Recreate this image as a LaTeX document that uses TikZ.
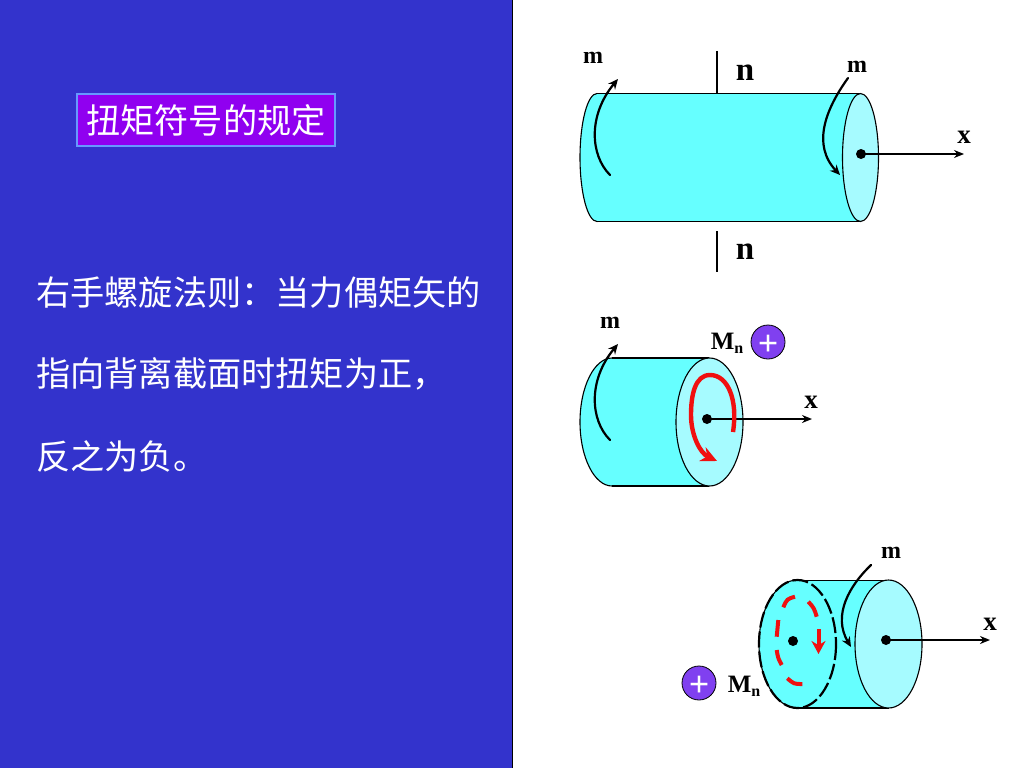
\documentclass[tikz,border=0pt]{standalone}
\usepackage{fontspec}
\usetikzlibrary{arrows.meta}
\newfontfamily\cjk{Noto Sans CJK SC}
\setmainfont{Liberation Serif}
\definecolor{bgblue}{HTML}{3333CC}
\definecolor{bodycyan}{HTML}{66FFFF}
\definecolor{facecyan}{HTML}{A6FBFF}
\definecolor{titlefill}{HTML}{9000F0}
\definecolor{titleline}{HTML}{6699FF}
\definecolor{badge}{HTML}{8040F0}
\definecolor{torque}{HTML}{F01010}
\tikzset{
  outline/.style={draw=black,line width=1.1pt},
  body/.style={fill=bodycyan,draw=none},
  face/.style={outline,fill=facecyan},
  momentarrow/.style={line width=2.2pt,line cap=round,-{Stealth[length=10pt,width=9pt]}},
  axisarrow/.style={line width=2pt,-{Stealth[length=10pt,width=8pt]}},
  tick/.style={line width=2pt},
  redarrow/.style={color=torque,line width=4.4pt,-{Stealth[length=16pt,width=15pt]}},
  reddash/.style={color=torque,line width=4pt},
  dotmark/.style={circle,fill=black,inner sep=0pt,minimum size=10pt},
  labelm/.style={inner sep=0pt,font=\bfseries\fontsize{24}{24}\selectfont},
  labelx/.style={inner sep=0pt,font=\bfseries\fontsize{27}{27}\selectfont},
  labeln/.style={inner sep=0pt,font=\bfseries\fontsize{33}{33}\selectfont},
  labelM/.style={inner sep=0pt,font=\bfseries\fontsize{25}{25}\selectfont},
  plusbadge/.style={circle,fill=badge,draw=black,line width=0.8pt,minimum size=34pt,inner sep=0pt,text=white,font=\bfseries\fontsize{36}{36}\selectfont},
  cntext/.style={inner sep=0pt,anchor=west,text=white,font=\cjk\fontsize{34.2}{34}\selectfont},
  titlebox/.style={fill=titlefill,draw=titleline,line width=1.2pt,minimum width=258pt,minimum height=52pt,inner sep=0pt,text=white,font=\cjk\fontsize{34.2}{34}\selectfont}
}
\begin{document}
\begin{tikzpicture}[x=1pt,y=-1pt]
\useasboundingbox (0,0) rectangle (1024,768);
\fill[white] (0,0) rectangle (1024,768);
\fill[bgblue] (0,0) rectangle (512,768);
\draw[line width=1pt] (512,0) -- (512,768);
% left panel
\node[titlebox] (title) at (206,120) {\raisebox{-13pt}[0pt][0pt]{扭矩符号的规定}};
\node[cntext] (line1) at (36,292) {右手螺旋法则^^^^ff1a当力偶矩矢的};
\node[cntext] (line2) at (36,374) {指向背离截面时扭矩为正^^^^ff0c};
\node[cntext] (line3) at (36,456) {反之为负。};
% cylinder 1
\draw[outline,fill=bodycyan] (597,157.5) ellipse [x radius=17,y radius=64];
\fill[bodycyan] (597,93.5) rectangle (860.5,221.5);
\draw[outline] (597,93.5) -- (860.5,93.5) (597,221.5) -- (860.5,221.5);
\draw[face] (860.5,157.5) ellipse [x radius=18,y radius=64];
\coordinate (t1a) at (716.5,51); \coordinate (t1b) at (716.5,93);
\coordinate (t2a) at (716.5,231); \coordinate (t2b) at (716.5,272);
\draw[tick] (t1a) -- (t1b);
\draw[tick] (t2a) -- (t2b);
\node[labeln] (n1) at (745,73) {n};
\node[labeln] (n2) at (745,252) {n};
\node[labelm] (m1) at (593,58) {m};
\node[labelm] (m2) at (857,67) {m};
\node[labelx] (x1) at (964,137) {x};
\node[dotmark] (d1) at (861,154) {};
\coordinate (x1end) at (964,154);
\draw[axisarrow] (d1.center) -- (x1end);
\coordinate (a1s) at (610,175); \coordinate (a1e) at (618,79);
\draw[momentarrow] (a1s) .. controls (590,155) and (588,115) .. (a1e);
\coordinate (a2s) at (848,78); \coordinate (a2e) at (840,175);
\draw[momentarrow] (a2s) .. controls (825,110) and (812,145) .. (a2e);
% cylinder 2
\draw[outline,fill=bodycyan] (612,422) ellipse [x radius=32,y radius=64];
\fill[bodycyan] (612,358) rectangle (709,486);
\draw[outline] (612,358) -- (709,358) (612,486) -- (709,486);
\draw[face] (709.5,422) ellipse [x radius=33.5,y radius=64];
\node[labelm] (m3) at (610,323) {m};
\node[labelM] (mn1) at (727,343) {M\raisebox{-4pt}{\fontsize{16}{16}\selectfont n}};
\node[plusbadge] (p1) at (768,342) {\raisebox{-13pt}[0pt][0pt]{+}};
\node[labelx] (x2) at (811,402) {x};
\node[dotmark] (d2) at (707,419) {};
\coordinate (x2end) at (812,419);
\draw[axisarrow] (d2.center) -- (x2end);
\coordinate (a3s) at (610,440); \coordinate (a3e) at (618,344);
\draw[momentarrow] (a3s) .. controls (590,420) and (588,380) .. (a3e);
\coordinate (r1s) at (733,432); \coordinate (r1e) at (717,461);
\draw[redarrow] (r1s) .. controls (738,400) and (728,375) .. (710,375) .. controls (695,375) and (691,395) .. (691,415) .. controls (691,435) and (700,453) .. (r1e);
% cylinder 3
\draw[outline,fill=bodycyan] (797.5,644) ellipse [x radius=38.5,y radius=64];
\fill[bodycyan] (797.5,580) rectangle (888.5,708);
\draw[outline] (797.5,580.5) -- (888.5,580.5) (797.5,708) -- (888.5,708);
\draw[line width=2.2pt,dash pattern=on 16pt off 4pt] (797.5,644) ellipse [x radius=38.5,y radius=64];
\draw[face] (888.5,644) ellipse [x radius=33.5,y radius=64];
\node[labelm] (m4) at (891,553) {m};
\node[labelx] (x3) at (990,624) {x};
\node[dotmark] (d3) at (793,641) {};
\node[dotmark] (d4) at (886,640) {};
\coordinate (x3end) at (990,640);
\draw[axisarrow] (d4.center) -- (x3end);
\coordinate (a4s) at (871,565); \coordinate (a4e) at (851,647);
\draw[momentarrow] (a4s) .. controls (850,585) and (832,615) .. (a4e);
\node[plusbadge] (p2) at (699,683) {\raisebox{-13pt}[0pt][0pt]{+}};
\node[labelM] (mn2) at (744,686) {M\raisebox{-4pt}{\fontsize{16}{16}\selectfont n}};
\draw[reddash] (783.3,607.3) .. controls (787,599) .. (795,596.7);
\draw[reddash] (808.3,601.7) .. controls (814,608) .. (816.7,616.7);
\draw[reddash] (778.3,620) .. controls (777,628) .. (776.7,636.7);
\draw[reddash] (776.7,650) .. controls (778,658) .. (781.7,665);
\draw[reddash] (787.3,678.3) .. controls (794,684) .. (802.3,684);
\coordinate (r2s) at (818.5,629); \coordinate (r2e) at (818.5,654);
\draw[color=torque,line width=4pt,-{Stealth[length=13pt,width=14pt]}] (r2s) -- (r2e);
\end{tikzpicture}
\end{document}
